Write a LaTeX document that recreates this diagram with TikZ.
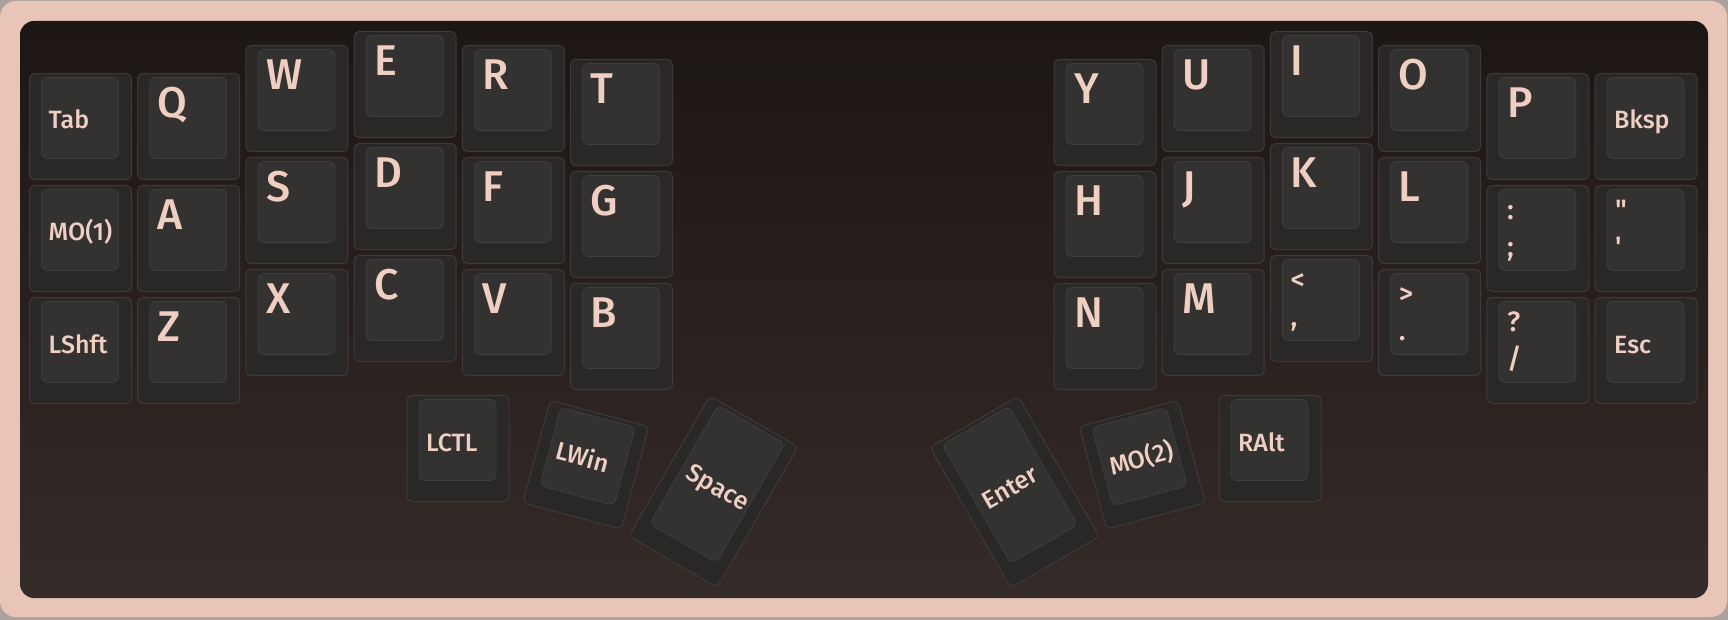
\documentclass[tikz,border=0pt]{standalone}
\usepackage{fontspec}
\setmainfont{Fira Sans Medium}

\definecolor{framegray}{HTML}{ABA19D}
\definecolor{frame}{HTML}{E9C5B8}
\definecolor{boardtop}{HTML}{1C1615}
\definecolor{boardmid}{HTML}{261E1C}
\definecolor{boardbot}{HTML}{352B28}
\definecolor{keyside}{HTML}{2A2827}
\definecolor{keyedge}{HTML}{3D3A39}
\definecolor{keytopc}{HTML}{343131}
\definecolor{topedge}{HTML}{403D3C}
\definecolor{legend}{HTML}{EFCFC2}

\tikzset{
  keybase/.style={draw=keyedge, fill=keyside, line width=1pt, rounded corners=5pt,
    minimum width=102pt, inner sep=0pt},
  keytop/.style={draw=topedge, fill=keytopc, line width=0.8pt, rounded corners=6pt,
    minimum width=77pt, inner sep=0pt},
  bigleg/.style={anchor=base west, inner sep=0pt, text=legend,
    font=\fontsize{43}{43}\selectfont},
  wordleg/.style={anchor=base west, inner sep=0pt, text=legend,
    font=\fontsize{25}{25}\selectfont},
  dualleg/.style={anchor=base west, inner sep=0pt, text=legend,
    font=\fontsize{28}{28}\selectfont}
}

% one key: name, centre, angle, height, legends
\newcommand\keycap[5]{%
  \begin{scope}[shift={#2}, rotate=#3, transform shape]
    \node[keybase, minimum height=#4] (#1) at (0,0) {};
    \node[keytop, minimum height={#4-25}] (#1-top) at (-0.5,-8.5) {};
    #5
  \end{scope}}

\begin{document}
\begin{tikzpicture}[x=1pt, y=-1pt]

  \useasboundingbox (0,0) rectangle (1728,620);

  % Column offsets of the stagger, in key units
  \def\stagger{{0,0,-0.25,-0.375,-0.25,-0.125,-0.125,-0.25,-0.375,-0.25,0,0}}

  % Draw the case and the plate
  \fill[framegray] (0,0) rectangle (1728,620);
  \fill[frame, rounded corners=16pt] (0,1) rectangle (1727,617);
  \shade[rounded corners=14pt, top color=boardtop, middle color=boardmid, bottom color=boardbot]
    (20,21) rectangle (1708,598);

  % Letter keys
  \foreach \name/\c/\r in {Q/1/0, W/2/0, E/3/0, R/4/0, T/5/0,
                           A/1/1, S/2/1, D/3/1, F/4/1, G/5/1,
                           Z/1/2, X/2/2, C/3/2, V/4/2, B/5/2,
                           Y/6/0, U/7/0, I/8/0, O/9/0, P/10/0,
                           H/6/1, J/7/1, K/8/1, L/9/1,
                           N/6/2, M/7/2} {
    \pgfmathsetmacro\kx{80.5+108.2*\c+375.3*(\c>5)}
    \pgfmathsetmacro\ky{126.5+112*(\r+\stagger[\c])}
    \keycap{\name}{(\kx,\ky)}{0}{106}{\node[bigleg] (\name-leg) at (-31,-9) {\name};}
  }

  % Modifier keys
  \foreach \name/\c/\r/\txt in {tab/0/0/Tab, mo1/0/1/MO(1), lshft/0/2/LShft,
                                bksp/11/0/Bksp, esc/11/2/Esc} {
    \pgfmathsetmacro\kx{80.5+108.2*\c+375.3*(\c>5)}
    \pgfmathsetmacro\ky{126.5+112*(\r+\stagger[\c])}
    \keycap{\name}{(\kx,\ky)}{0}{106}{\node[wordleg] (\name-leg) at (-32,2.5) {\txt};}
  }

  % Symbol keys with two legends
  \foreach \name/\c/\r/\up/\low in {colon/10/1/{:}/{;}, quote/11/1/{\textquotedbl}/{\textquotesingle},
                                    comma/8/2/{<}/{,}, period/9/2/{>}/{.},
                                    slash/10/2/{?}/{/}} {
    \pgfmathsetmacro\kx{80.5+108.2*\c+375.3*(\c>5)}
    \pgfmathsetmacro\ky{126.5+112*(\r+\stagger[\c])}
    \keycap{\name}{(\kx,\ky)}{0}{106}{%
      \node[dualleg] (\name-up) at (-31,-19) {\up};
      \node[dualleg] (\name-low) at (-31,18) {\low};}
  }

  % Thumb cluster
  \keycap{lctl}{(458,448.5)}{0}{106}{\node[wordleg] (lctl-leg) at (-32,2.5) {LCTL};}
  \keycap{lwin}{(585.75,464.75)}{-15}{106}{\node[wordleg] (lwin-leg) at (-32,2.5) {LWin};}
  \keycap{space}{(713.5,491.5)}{-30}{162}{\node[wordleg] (space-leg) at (-32,2.5) {Space};}
  \keycap{enter}{(1014.5,492)}{30}{162}{\node[wordleg] (enter-leg) at (-32,2.5) {Enter};}
  \keycap{mo2}{(1142.25,464.75)}{15}{106}{\node[wordleg] (mo2-leg) at (-32,2.5) {MO(2)};}
  \keycap{ralt}{(1270,448.5)}{0}{106}{\node[wordleg] (ralt-leg) at (-32,2.5) {RAlt};}

\end{tikzpicture}
\end{document}
